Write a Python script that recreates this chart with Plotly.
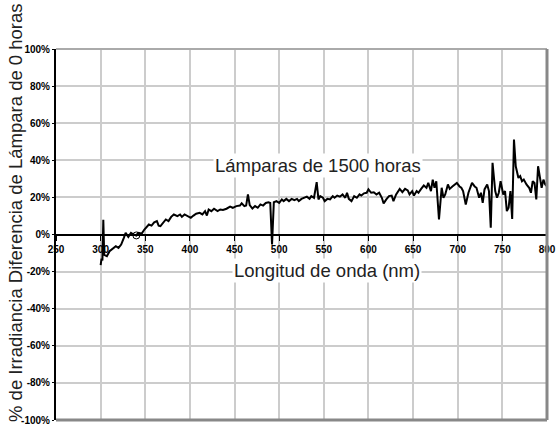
import plotly.graph_objects as go

# Spectral irradiance difference of 1500-hour lamps relative to 0-hour lamps
wavelength_nm = [
    300, 301, 302, 303, 304, 307, 310, 314, 317, 320, 323, 326, 328, 331, 334,
    337, 340, 342, 346, 349, 352, 354, 357, 360, 363, 365, 367, 370, 373, 376,
    379, 382, 386, 389, 391, 394, 397, 401, 404, 407, 411, 414, 417, 419, 421,
    424, 427, 431, 434, 437, 441, 445, 448, 452, 456, 458, 461, 463, 465, 467,
    470, 473, 476, 479, 482, 485, 488, 490, 492, 494, 497, 500, 503, 505, 508,
    511, 514, 517, 520, 522, 525, 528, 531, 534, 536, 539, 542, 544, 546, 549,
    551, 554, 557, 560, 562, 565, 568, 571, 574, 576, 578, 581, 584, 587, 590,
    592, 595, 598, 600, 603, 606, 609, 612, 615, 617, 620, 623, 626, 628, 631,
    633, 635, 638, 641, 644, 646, 649, 651, 654, 656, 659, 662, 665, 667, 670,
    672, 674, 676, 679, 682, 684, 686, 689, 691, 694, 697, 699, 702, 704, 706,
    709, 712, 714, 716, 719, 721, 724, 726, 728, 730, 733, 735, 737, 739, 742,
    744, 746, 748, 751, 753, 755, 757, 759, 761, 763, 765, 768, 770, 772, 774,
    777, 780, 782, 784, 786, 788, 790, 792, 794, 796, 798, 800,
]
irradiance_diff_pct = [
    -16.5, -13.0, -14.0, 8.0, -11.0, -11.7, -9.0, -7.2, -6.3, -7.2, -5.4, -1.8, 0.9, -1.3, 0.9,
    0.0, -0.5, 0.9, 0.5, 2.7, 4.5, 5.4, 4.8, 6.6, 7.2, 4.8, 4.5, 6.3, 8.1, 7.2,
    9.5, 10.8, 9.9, 10.8, 9.5, 10.8, 10.2, 9.0, 10.2, 11.2, 11.7, 10.8, 12.6, 10.2, 13.5,
    12.6, 13.9, 12.6, 13.5, 13.2, 13.9, 15.0, 14.4, 15.3, 15.6, 16.8, 15.3, 15.6, 21.6, 15.8,
    14.0, 15.3, 14.4, 16.2, 15.6, 17.0, 17.4, 17.0, -5.4, 17.4, 18.0, 17.0, 18.9, 18.0, 19.2,
    18.0, 19.2, 18.5, 19.2, 18.0, 19.2, 19.8, 20.4, 19.2, 20.7, 19.8, 28.2, 18.9, 20.7, 19.8,
    18.0, 19.2, 18.9, 20.7, 19.8, 21.0, 20.4, 21.6, 19.8, 22.5, 19.2, 18.0, 20.7, 19.8, 21.6,
    21.0, 22.2, 22.5, 24.3, 22.5, 22.8, 21.6, 22.5, 19.8, 16.8, 18.9, 20.7, 21.0, 18.0, 21.6,
    23.4, 24.6, 22.8, 24.6, 23.8, 21.6, 23.4, 21.0, 23.4, 22.5, 24.6, 26.4, 25.2, 27.8, 23.4,
    29.6, 25.2, 28.7, 8.1, 25.2, 19.8, 21.6, 27.0, 24.6, 25.9, 27.0, 27.8, 25.9, 25.2, 23.4,
    16.2, 22.5, 25.2, 27.8, 25.9, 25.2, 19.8, 22.5, 17.1, 24.3, 27.0, 23.4, 3.6, 38.6, 23.4,
    19.8, 22.5, 28.7, 21.6, 23.4, 12.6, 14.4, 23.4, 8.4, 51.2, 36.8, 30.5, 31.5, 28.7, 29.6,
    27.0, 25.2, 22.5, 28.7, 27.8, 18.9, 36.8, 29.6, 25.2, 29.6, 27.0, 25.9,
]

# Single open-circle marker on the curve
marker_nm = [340]
marker_pct = [-0.5]

x_ticks = list(range(250, 801, 50))
x_tick_text = [f"<b>{v}</b>" for v in x_ticks]
y_ticks = list(range(-100, 101, 20))
y_tick_text = [f"<b>{v}%</b>" for v in y_ticks]

tick_font = dict(family="Liberation Sans, Arial, sans-serif", size=10, color="black")
text_font = dict(family="Liberation Sans, Arial, Helvetica, sans-serif", size=18.5, color="#222222")

fig = go.Figure()
fig.add_trace(go.Scatter(
    x=wavelength_nm, y=irradiance_diff_pct, mode="lines",
    line=dict(color="black", width=2), hoverinfo="x+y",
))
fig.add_trace(go.Scatter(
    x=marker_nm, y=marker_pct, mode="markers",
    marker=dict(symbol="circle-open", size=7, color="black", line=dict(width=1)),
))

fig.update_layout(
    width=557, height=429,
    margin=dict(l=56, r=10, t=49, b=9),
    plot_bgcolor="white", paper_bgcolor="white",
    showlegend=False,
    xaxis=dict(
        range=[250, 800], tickmode="array", tickvals=x_ticks, ticktext=x_tick_text,
        showgrid=True, gridcolor="#cccccc", gridwidth=1.5,
        showline=True, linecolor="black", linewidth=2,
        anchor="free", position=0.5,
        ticks="outside", ticklen=5, tickcolor="black", tickwidth=1,
        tickfont=tick_font, zeroline=False,
    ),
    yaxis=dict(
        range=[-100, 100], tickmode="array", tickvals=y_ticks, ticktext=y_tick_text,
        showgrid=True, gridcolor="#cccccc", gridwidth=1.5,
        showline=True, linecolor="black", linewidth=2,
        ticks="outside", ticklen=2, tickcolor="black", tickwidth=1,
        tickfont=tick_font, zeroline=False,
    ),
    shapes=[
        dict(type="line", xref="paper", yref="paper", x0=0, x1=1, y0=1, y1=1,
             line=dict(color="#aaaaaa", width=2)),
        dict(type="line", xref="paper", yref="paper", x0=1, x1=1, y0=0, y1=1,
             line=dict(color="#888888", width=3)),
        dict(type="line", xref="paper", yref="paper", x0=0, x1=1, y0=0, y1=0,
             line=dict(color="#888888", width=3)),
    ],
    annotations=[
        dict(text="% de Irradiancia Diferencia de Lámpara de 0 horas",
             xref="paper", yref="paper", x=-0.084, y=0.56,
             xanchor="center", yanchor="middle", textangle=-90,
             showarrow=False, font=text_font),
        dict(text="Lámparas de 1500 horas",
             xref="paper", yref="paper", x=0.5326, y=0.687,
             xanchor="center", yanchor="middle",
             showarrow=False, font=text_font, bgcolor="white", borderpad=1),
        dict(text="Longitud de onda (nm)",
             xref="paper", yref="paper", x=0.552, y=0.404,
             xanchor="center", yanchor="middle",
             showarrow=False, font=text_font, bgcolor="white", borderpad=1),
    ],
)
fig.update_xaxes(automargin=False)
fig.update_yaxes(automargin=False)

fig.write_html("out.html")
